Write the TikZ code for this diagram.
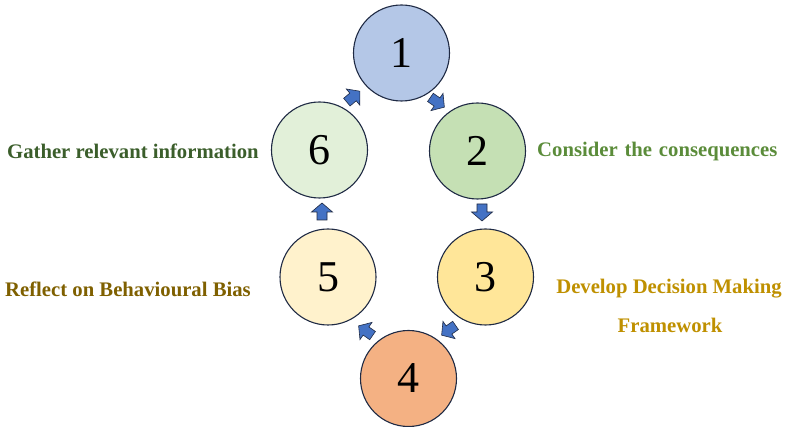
\documentclass[tikz,border=0pt]{standalone}
\usepackage{fontspec}
\setmainfont{Liberation Serif}
\definecolor{cone}{HTML}{B4C7E7}
\definecolor{ctwo}{HTML}{C5E0B4}
\definecolor{cthree}{HTML}{FFE699}
\definecolor{cfour}{HTML}{F4B183}
\definecolor{cfive}{HTML}{FFF2CC}
\definecolor{csix}{HTML}{E2F0D9}
\definecolor{edge}{HTML}{1F2A44}
\definecolor{arrowblue}{HTML}{4472C4}
\definecolor{tgather}{HTML}{3B5E2B}
\definecolor{tconsider}{HTML}{5B8C3A}
\definecolor{treflect}{HTML}{7F6000}
\definecolor{tdevelop}{HTML}{BF9000}
\tikzset{
  stepcircle/.style={circle, draw=edge, line width=1.1pt, minimum size=96pt, inner sep=0pt, font=\fontsize{44}{44}\selectfont},
  blockarrow/.pic={
    \draw[draw=edge, line width=0.6pt, fill=arrowblue, line join=miter]
      (-8,-5) -- (0,-5) -- (0,-10.5) -- (9,0) -- (0,10.5) -- (0,5) -- (-8,5) -- cycle;
  },
  label/.style={font=\fontsize{20.7}{24}\selectfont\bfseries, inner sep=0pt}
}
\begin{document}
\begin{tikzpicture}[x=1pt, y=-1pt]
\useasboundingbox (0,0) rectangle (790,427);
\node[stepcircle, fill=cone]   (n1) at (401.5,53) {1};
\node[stepcircle, fill=ctwo]   (n2) at (477.5,151) {2};
\node[stepcircle, fill=cthree] (n3) at (485.5,277) {3};
\node[stepcircle, fill=cfour]  (n4) at (408.5,378.5) {4};
\node[stepcircle, fill=cfive]  (n5) at (328,277) {5};
\node[stepcircle, fill=csix]   (n6) at (319.5,150) {6};

\pic[rotate=40]  at (353,97)  {blockarrow};
\pic[rotate=-35] at (437,102) {blockarrow};
\pic[rotate=-90] at (482,212) {blockarrow};
\pic[rotate=215] at (449,330) {blockarrow};
\pic[rotate=145] at (366,331) {blockarrow};
\pic[rotate=90]  at (322,212) {blockarrow};

\node[label, text=tgather, anchor=west] (l6) at (7,151) {Gather relevant information};
\node[label, text=tconsider, anchor=west] (l2) at (537,152) {Consider\hspace{0.33em}the\hspace{0.33em}consequences};
\node[label, text=treflect, anchor=west] (l5) at (5,289) {Reflect on Behavioural Bias};
\node[label, text=tdevelop, anchor=center] (l3a) at (669,289) {Develop Decision Making};
\node[label, text=tdevelop, anchor=center] (l3b) at (670,325) {Framework};
\end{tikzpicture}
\end{document}
